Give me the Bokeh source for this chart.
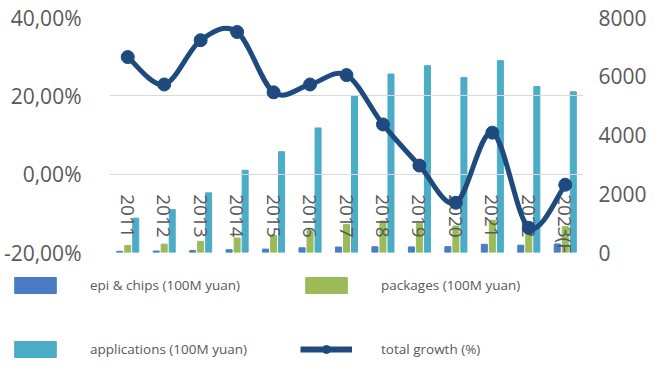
import numpy as np
from bokeh.plotting import figure
from bokeh.models import (Range1d, LinearAxis, FixedTicker, Legend, LegendItem,
                          ColumnDataSource)
from bokeh.transform import dodge
from bokeh.embed import file_html
from bokeh.resources import INLINE

# ---- data ----
years = ["2011", "2012", "2013", "2014", "2015", "2016", "2017",
         "2018", "2019", "2020", "2021", "2022", "2023(F)"]
epi_chips = [40, 50, 65, 95, 115, 160, 185, 195, 190, 200, 280, 250, 290]
packages = [240, 285, 380, 490, 580, 740, 950, 1070, 1000, 900, 1100, 1000, 880]
applications = [1170, 1460, 2030, 2800, 3430, 4240, 5310, 6075, 6360, 5960, 6530, 5650, 5470]
total_growth = [29.9, 22.9, 34.2, 36.3, 20.9, 22.9, 25.3, 12.7, 2.2, -7.3, 10.6, -13.7, -2.7]
series_names = ["epi & chips (100M yuan)", "packages (100M yuan)",
                "applications (100M yuan)", "total growth (%)"]
left_ticks = [-20, 0, 20, 40]
left_tick_labels = ["-20,00%", "0,00%", "20,00%", "40,00%"]
right_ticks = [0, 2000, 4000, 6000, 8000]

# ---- styles ----
BLUE, GREEN, CYAN, NAVY = "#4A7CC5", "#9BBB59", "#4BACC6", "#1F4A7E"
TXT = "#595959"
FONT = "Open Sans"

idx = np.arange(len(years))
src = ColumnDataSource(dict(x=idx, epi=epi_chips, pkg=packages, app=applications,
                            g=total_growth))

p = figure(width=663, height=274, output_backend="svg", toolbar_location=None,
           x_range=Range1d(-0.5, len(years) - 0.5), y_range=Range1d(-20, 40),
           min_border_left=109, min_border_right=80, min_border_top=17,
           min_border_bottom=22, outline_line_color=None)
p.extra_y_ranges = {"right": Range1d(0, 8000)}

bw = 0.165
p.vbar(x=dodge("x", -0.22), top="epi", width=bw, source=src,
       y_range_name="right", color=BLUE, level="underlay")
p.vbar(x=dodge("x", 0.0), top="pkg", width=bw, source=src,
       y_range_name="right", color=GREEN, level="underlay")
p.vbar(x=dodge("x", 0.22), top="app", width=bw, source=src,
       y_range_name="right", color=CYAN, level="underlay")

# smoothed growth line (Catmull-Rom -> cubic Bezier through the data points)
xs = idx.astype(float)
ys = np.array(total_growth, dtype=float)
n = len(xs)
x0, y0, x1, y1, cx0, cy0, cx1, cy1 = ([] for _ in range(8))
for i in range(n - 1):
    pi_ = max(i - 1, 0)
    ni = min(i + 2, n - 1)
    x0.append(xs[i]); y0.append(ys[i]); x1.append(xs[i + 1]); y1.append(ys[i + 1])
    cx0.append(xs[i] + (xs[i + 1] - xs[pi_]) / 6)
    cy0.append(ys[i] + (ys[i + 1] - ys[pi_]) / 6)
    cx1.append(xs[i + 1] - (xs[ni] - xs[i]) / 6)
    cy1.append(ys[i + 1] - (ys[ni] - ys[i]) / 6)
bsrc = ColumnDataSource(dict(x0=x0, y0=y0, x1=x1, y1=y1, cx0=cx0, cy0=cy0,
                             cx1=cx1, cy1=cy1))
p.bezier(x0="x0", y0="y0", x1="x1", y1="y1", cx0="cx0", cy0="cy0",
         cx1="cx1", cy1="cy1", source=bsrc, line_color=NAVY, line_width=5,
         level="overlay")
p.scatter(x="x", y="g", source=src, size=13, color=NAVY, level="overlay")

# axes
p.xaxis.ticker = FixedTicker(ticks=list(idx))
p.xaxis.major_label_overrides = {int(i): years[i] for i in idx}
p.xaxis.fixed_location = 0
p.xaxis.major_label_orientation = "vertical"
p.xaxis.axis_line_color = None
p.xaxis.major_tick_line_color = None
p.xaxis.minor_tick_line_color = None
p.xaxis.major_label_standoff = 14
p.xaxis.major_label_text_font = FONT
p.xaxis.major_label_text_font_size = "19px"
p.xaxis.major_label_text_color = TXT

p.yaxis.ticker = FixedTicker(ticks=left_ticks)
p.yaxis.major_label_overrides = dict(zip(left_ticks, left_tick_labels))
ry = LinearAxis(y_range_name="right", ticker=FixedTicker(ticks=right_ticks))
p.add_layout(ry, "right")
for ax, fs, so in ((p.yaxis[0], "21px", 22), (ry, "21px", 9)):
    ax.axis_line_color = None
    ax.major_tick_line_color = None
    ax.minor_tick_line_color = None
    ax.major_label_standoff = so
    ax.major_label_text_font = FONT
    ax.major_label_text_font_size = fs
    ax.major_label_text_color = TXT

p.xgrid.visible = False
p.ygrid.grid_line_color = "#D9D9D9"
p.ygrid.grid_line_width = 1

# ---- legend in its own strip below the chart ----
lg = figure(width=663, height=101, output_backend="svg", toolbar_location=None,
            x_range=Range1d(0, 1), y_range=Range1d(0, 1),
            x_axis_location=None, y_axis_location=None,
            min_border_left=8, min_border_right=0, min_border_top=0,
            min_border_bottom=0, outline_line_color=None)
lg.grid.visible = False
# legend-only renderers, kept outside the visible range of this strip
d1 = lg.vbar(x=[5], top=[5], bottom=[4], width=0.1, color=BLUE)
d2 = lg.vbar(x=[5], top=[5], bottom=[4], width=0.1, color=GREEN)
d3 = lg.vbar(x=[5], top=[5], bottom=[4], width=0.1, color=CYAN)
d4 = lg.line(x=[5, 6], y=[5, 6], line_color=NAVY, line_width=6)
d5 = lg.scatter(x=[5], y=[5], size=18, color=NAVY)

legend = Legend(items=[LegendItem(label=series_names[0], renderers=[d1]),
                       LegendItem(label=series_names[1], renderers=[d2]),
                       LegendItem(label=series_names[2], renderers=[d3]),
                       LegendItem(label=series_names[3], renderers=[d4, d5])],
                location="top_left", orientation="horizontal", ncols=2,
                glyph_width=52, glyph_height=20, label_standoff=29,
                label_width=166, label_height=20, spacing=44, padding=0,
                margin=1, border_line_alpha=0, background_fill_alpha=0,
                label_text_font=FONT, label_text_font_size="13.5px",
                label_text_color=TXT)
lg.add_layout(legend, "center")

open("out.html", "w").write(file_html([p, lg], INLINE))
